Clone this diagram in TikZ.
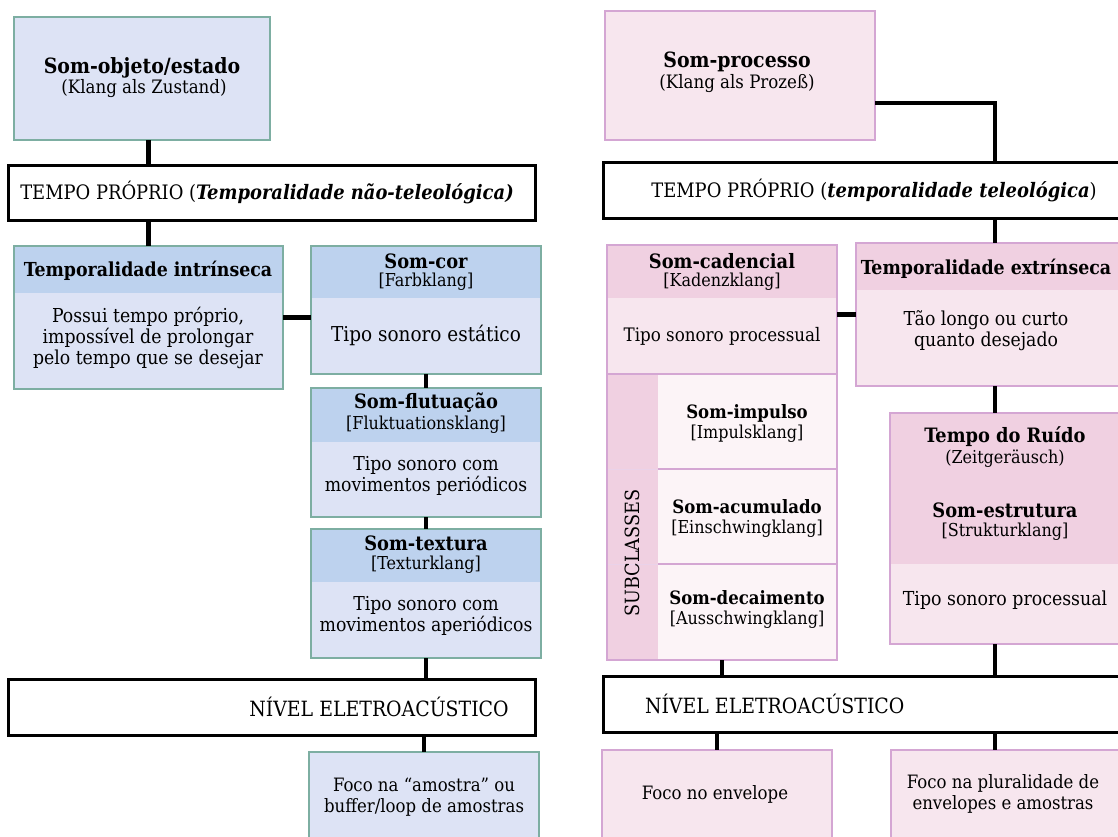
\documentclass[tikz,border=0pt]{standalone}
\usepackage{fontspec}
\setmainfont{DejaVu Serif Condensed}
\usetikzlibrary{calc}
\definecolor{bbody}{HTML}{DDE3F5}
\definecolor{bhead}{HTML}{BDD2EE}
\definecolor{bedge}{HTML}{7DAEA2}
\definecolor{pbody}{HTML}{F7E6EE}
\definecolor{phead}{HTML}{F0D0E1}
\definecolor{pcell}{HTML}{FCF4F7}
\definecolor{pedge}{HTML}{D4A6D3}
\newcommand{\topf}{\fontsize{21}{22}\selectfont\bfseries}
\newcommand{\topsf}{\fontsize{18.5}{22}\selectfont}
\newcommand{\ttlf}{\fontsize{19.8}{21}\selectfont\bfseries}
\newcommand{\tmpf}{\fontsize{19.3}{21}\selectfont\bfseries}
\newcommand{\celf}{\fontsize{18.4}{21}\selectfont\bfseries}
\newcommand{\subf}{\fontsize{17.8}{21}\selectfont}
\newcommand{\bodf}{\fontsize{19.2}{20.8}\selectfont}
\newcommand{\bigf}{\fontsize{19.9}{21}\selectfont}
\newcommand{\focf}{\fontsize{18.4}{21.5}\selectfont}
% composite box: name, x, y, w, h, header height, head colour, body colour, edge colour
\newcommand{\cbox}[9]{%
  \node[fillbox, fill=#8, minimum width=#4pt, minimum height=#5pt] (#1) at (#2,#3) {};
  \node[fillbox, fill=#7, minimum width=#4pt, minimum height=#6pt] (#1h) at (#2,#3) {};
  \draw[draw=#9, line width=1.3pt] (#1.north west) rectangle (#1.south east);
}
\tikzset{
  fillbox/.style={anchor=north west, inner sep=0pt, outer sep=0pt, draw=none},
  bigbox/.style={anchor=north west, inner sep=0pt, outer sep=0pt, draw=black, fill=white, line width=3pt},
  txt/.style={inner sep=0pt, outer sep=0pt, align=center, text=black},
  conn/.style={draw=black, line width=4.5pt},
}
\begin{document}
\begin{tikzpicture}[x=1pt, y=-1pt]
\useasboundingbox[fill=white] (0,0) rectangle (1118,836);

% ---------------- left column ----------------
\node[fillbox, fill=bbody, draw=bedge, line width=1.3pt, minimum width=256pt, minimum height=123pt] (so) at (14,17) {};
\node[txt, font=\topf] (soT) at (142,68) {Som-objeto/estado};
\node[txt, font=\topsf] (soS) at (144,89) {(Klang als Zustand)};

\node[bigbox, minimum width=527pt, minimum height=55pt] (tl) at (8,165) {};
\node[txt, font=\bigf] (tlT) at (267,192) {TEMPO PRÓPRIO (\textbf{\textit{Temporalidade não-teleológica)}}};

\cbox{ti}{14}{246}{269}{143}{47}{bhead}{bbody}{bedge}
\node[txt, font=\tmpf] (tiT) at (148,271) {Temporalidade intrínseca};
\node[txt, font=\bodf] (tiB) at (148,338) {Possui tempo próprio,\\ impossível de prolongar\\ pelo tempo que se desejar};

\cbox{sc}{311}{246}{230}{128}{52}{bhead}{bbody}{bedge}
\node[txt, font=\ttlf] (scT) at (426,261) {Som-cor};
\node[txt, font=\subf] (scS) at (426,282) {[Farbklang]};
\node[txt, font=\fontsize{20.5}{21}\selectfont] (scB) at (426,335) {Tipo sonoro estático};

\cbox{sf}{311}{388}{230}{129}{54}{bhead}{bbody}{bedge}
\node[txt, font=\ttlf] (sfT) at (426,403) {Som-flutuação};
\node[txt, font=\subf] (sfS) at (426,425) {[Fluktuationsklang]};
\node[txt, font=\bodf] (sfB) at (426,476) {Tipo sonoro com\\ movimentos periódicos};

\cbox{st}{311}{529}{230}{129}{53}{bhead}{bbody}{bedge}
\node[txt, font=\ttlf] (stT) at (426,543) {Som-textura};
\node[txt, font=\subf] (stS) at (426,565) {[Texturklang]};
\node[txt, font=\bodf] (stB) at (426,616) {Tipo sonoro com\\ movimentos aperiódicos};

\node[bigbox, minimum width=527pt, minimum height=56pt] (nl) at (8,679) {};
\node[txt, font=\fontsize{21}{22}\selectfont] (nlT) at (379,707) {NÍVEL ELETROACÚSTICO};

\node[fillbox, fill=bbody, draw=bedge, line width=1.3pt, minimum width=230pt, minimum height=100pt] (fa) at (309,752) {};
\node[txt, font=\focf] (faT) at (424,797) {Foco na “amostra” ou\\ buffer/loop de amostras};

% ---------------- right column ----------------
\coordinate (axR) at (995,0);

\node[fillbox, fill=pbody, draw=pedge, line width=1.3pt, minimum width=270pt, minimum height=129pt] (sp) at (605,11) {};
\node[txt, font=\topf] (spT) at (737,62) {Som-processo};
\node[txt, font=\topsf] (spS) at (737,84) {(Klang als Prozeß)};

\node[bigbox, minimum width=545pt, minimum height=56pt] (tr) at (603,162) {};
\node[txt, font=\bigf] (trT) at (874,190) {TEMPO PRÓPRIO (\textbf{\textit{temporalidade teleológica}})};

% Som-cadencial
\cbox{cad}{607}{245}{230}{415}{53}{phead}{pbody}{pedge}
\node[fillbox, fill=phead, minimum width=51pt, minimum height=286pt] (strip) at (607,374) {};
\node[fillbox, fill=pcell, minimum width=179pt, minimum height=95pt] (c1) at (658,374) {};
\node[fillbox, fill=pcell, minimum width=179pt, minimum height=95pt] (c2) at (658,469) {};
\node[fillbox, fill=pcell, minimum width=179pt, minimum height=96pt] (c3) at (658,564) {};
\draw[draw=pedge, line width=1.3pt] (strip.north west) -- (c1.north east);
\draw[draw=pedge, line width=1.3pt] (c1.south west) -- (c1.south east);
\draw[draw=pedge, line width=1.3pt] (c2.south west) -- (c2.south east);
\draw[draw=pedge!50, line width=1pt] (strip.west |- c1.south) -- (c1.south west);
\draw[draw=pedge!50, line width=1pt] (strip.west |- c2.south) -- (c2.south west);
\draw[draw=pedge, line width=1.3pt] (cad.north west) rectangle (cad.south east);
\node[txt, font=\ttlf] (cadT) at (722,261) {Som-cadencial};
\node[txt, font=\subf] (cadS) at (722,282) {[Kadenzklang]};
\node[txt, font=\fontsize{18.6}{20}\selectfont] (cadB) at (722,336) {Tipo sonoro processual};
\node[txt, rotate=90, font=\fontsize{19.6}{20}\selectfont] (subT) at (632,553) {SUBCLASSES};
\node[txt, font=\celf] (c1T) at (747,413) {Som-impulso};
\node[txt, font=\subf] (c1S) at (747,434) {[Impulsklang]};
\node[txt, font=\celf] (c2T) at (747,507) {Som-acumulado};
\node[txt, font=\subf] (c2S) at (747,529) {[Einschwingklang]};
\node[txt, font=\celf] (c3T) at (747,598) {Som-decaimento};
\node[txt, font=\subf] (c3S) at (747,620) {[Ausschwingklang]};

% Temporalidade extrinseca
\cbox{te}{856}{243}{266}{143}{47}{phead}{pbody}{pedge}
\node[txt, font=\tmpf] (teT) at (986,269) {Temporalidade extrínseca};
\node[txt, font=\bodf] (teB) at (986,331) {Tão longo ou curto\\ quanto desejado};

% Tempo do Ruido
\cbox{tdr}{890}{413}{232}{231}{151}{phead}{pbody}{pedge}
\node[txt, font=\ttlf] (tdrT) at (1005,437) {Tempo do Ruído};
\node[txt, font=\subf] (tdrS) at (1005,459) {(Zeitgeräusch)};
\node[txt, font=\ttlf] (tdrT2) at (1005,510) {Som-estrutura};
\node[txt, font=\subf] (tdrS2) at (1005,532) {[Strukturklang]};
\node[txt, font=\fontsize{19.3}{20}\selectfont] (tdrB) at (1005,600) {Tipo sonoro processual};

\node[bigbox, minimum width=545pt, minimum height=56pt] (nr) at (603,676) {};
\node[txt, anchor=west, font=\fontsize{21}{22}\selectfont] (nrT) at (645,704) {NÍVEL ELETROACÚSTICO};

\node[fillbox, fill=pbody, draw=pedge, line width=1.3pt, minimum width=230pt, minimum height=100pt] (fe) at (602,750) {};
\node[txt, font=\focf] (feT) at (715,794) {Foco no envelope};
\node[fillbox, fill=pbody, draw=pedge, line width=1.3pt, minimum width=232pt, minimum height=100pt] (fp) at (891,750) {};
\node[txt, font=\focf] (fpT) at (1003,794) {Foco na pluralidade de\\ envelopes e amostras};

% ---------------- connectors ----------------
\draw[conn] (ti.north |- so.south) -- (ti.north |- tl.north);
\draw[conn] (ti.north |- tl.south) -- (ti.north);
\draw[conn] (ti.east) -- (ti.east -| sc.west);
\draw[conn] (sc.south) -- (sf.north);
\draw[conn] (sf.south) -- (st.north);
\draw[conn] (st.south) -- (st.south |- nl.north);
\draw[conn] (fa.north |- nl.south) -- (fa.north);

\draw[conn] ($(sp.east)+(0,27.5)$) -| (tr.north -| axR);
\draw[conn] (tr.south -| axR) -- (te.north -| axR);
\draw[conn] (te.west) -- (te.west -| cad.east);
\draw[conn] (te.south -| axR) -- (tdr.north -| axR);
\draw[conn] (tdr.south -| axR) -- (nr.north -| axR);
\draw[conn] (cad.south) -- (cad.south |- nr.north);
\draw[conn] (fe.north |- nr.south) -- (fe.north);
\draw[conn] (nr.south -| axR) -- (fp.north -| axR);
\end{tikzpicture}
\end{document}
